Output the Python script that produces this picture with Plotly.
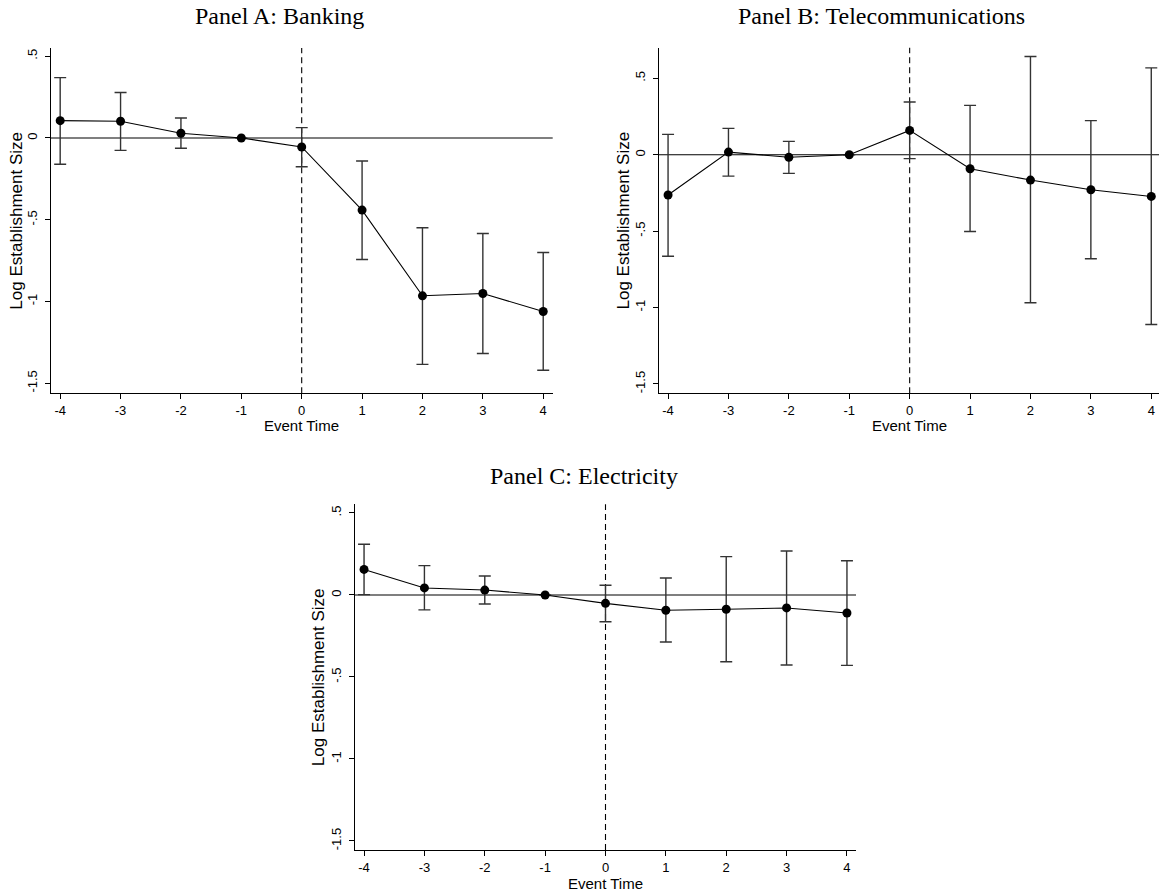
import plotly.graph_objects as go

event_time = [-4, -3, -2, -1, 0, 1, 2, 3, 4]

# Panel A: Banking
bank_est = [0.106, 0.102, 0.029, 0.0, -0.055, -0.441, -0.965, -0.951, -1.061]
bank_hi = [0.369, 0.278, 0.122, 0.0, 0.063, -0.141, -0.549, -0.584, -0.700]
bank_lo = [-0.161, -0.076, -0.063, 0.0, -0.176, -0.743, -1.384, -1.318, -1.420]

# Panel B: Telecommunications
tele_est = [-0.264, 0.017, -0.017, 0.0, 0.159, -0.092, -0.166, -0.229, -0.273]
tele_hi = [0.133, 0.172, 0.087, 0.0, 0.345, 0.323, 0.642, 0.223, 0.568]
tele_lo = [-0.664, -0.140, -0.122, 0.0, -0.026, -0.502, -0.969, -0.681, -1.111]

# Panel C: Electricity
elec_est = [0.156, 0.043, 0.030, 0.0, -0.051, -0.093, -0.087, -0.079, -0.110]
elec_hi = [0.309, 0.179, 0.116, 0.0, 0.059, 0.104, 0.234, 0.268, 0.209]
elec_lo = [0.002, -0.091, -0.055, 0.0, -0.163, -0.287, -0.407, -0.427, -0.429]

titles = ["Panel A: Banking", "Panel B: Telecommunications", "Panel C: Electricity"]
x_title = "Event Time"
y_title = "Log Establishment Size"
y_tickvals = [-1.5, -1, -0.5, 0, 0.5]
y_ticktext = ["-1.5", "-1", "-.5", "0", ".5"]
x_tickvals = event_time
x_ticktext = [str(v) for v in event_time]

W, H = 1159, 892

def fx(px):
    return px / W

def fy(py):
    return 1 - py / H

panels = [
    dict(est=bank_est, hi=bank_hi, lo=bank_lo, xd=[fx(50.7), fx(552.7)], yd=[fy(393.3), fy(48)],
         xr=[-4.157, 4.157], yr=[-1.561, 0.550], title_x=279, title_y=31, ytl_x=17, xt_y=426),
    dict(est=tele_est, hi=tele_hi, lo=tele_lo, xd=[fx(659), 1.0], yd=[fy(393.3), fy(47.7)],
         xr=[-4.15, 4.128], yr=[-1.561, 0.700], title_x=882, title_y=31, ytl_x=623, xt_y=426),
    dict(est=elec_est, hi=elec_hi, lo=elec_lo, xd=[fx(355), fx(856)], yd=[fy(850), fy(504.3)],
         xr=[-4.15, 4.15], yr=[-1.555, 0.553], title_x=584, title_y=491, ytl_x=318, xt_y=883),
]

fig = go.Figure()
annotations = []
shapes = []
layout = {}

for i, p in enumerate(panels):
    n = "" if i == 0 else str(i + 1)
    xa, ya = "x" + n, "y" + n
    plus = [h - e for h, e in zip(p["hi"], p["est"])]
    minus = [e - l for e, l in zip(p["est"], p["lo"])]
    fig.add_trace(go.Scatter(
        x=event_time, y=p["est"], xaxis=xa, yaxis=ya, mode="lines+markers",
        line=dict(color="black", width=1.1),
        marker=dict(color="black", size=9),
        error_y=dict(type="data", array=plus, arrayminus=minus, symmetric=False,
                     color="#333333", thickness=1.4, width=6),
        showlegend=False, cliponaxis=False,
    ))
    layout["xaxis" + n] = dict(
        domain=p["xd"], range=p["xr"], anchor=ya, tickvals=x_tickvals, ticktext=x_ticktext,
        showgrid=False, zeroline=False, showline=True, linecolor="black", linewidth=1,
        ticks="outside", ticklen=5, tickcolor="black", tickwidth=1,
        tickfont=dict(family="Liberation Sans, Arial", size=13, color="black"),
    )
    layout["yaxis" + n] = dict(
        domain=p["yd"], range=p["yr"], anchor=xa, tickvals=y_tickvals, ticktext=y_ticktext,
        showgrid=False, zeroline=False, showline=True, linecolor="black", linewidth=1,
        ticks="outside", ticklen=5, tickcolor="black", tickwidth=1, tickangle=-90,
        ticklabelstandoff=3,
        tickfont=dict(family="Liberation Sans, Arial", size=13, color="black"),
    )
    shapes.append(dict(type="line", xref=xa + " domain", yref=ya, x0=0, x1=1, y0=0, y1=0,
                       line=dict(color="black", width=1.1), layer="below"))
    shapes.append(dict(type="line", xref=xa, yref=ya + " domain", x0=0, x1=0, y0=0, y1=1,
                       line=dict(color="black", width=1.1, dash="6px,4px"), layer="below"))
    annotations.append(dict(text=titles[i], x=fx(p["title_x"]), y=fy(p["title_y"]), xref="paper", yref="paper",
                            xanchor="center", yanchor="bottom", showarrow=False,
                            font=dict(family="Liberation Serif, Times New Roman", size=24, color="black")))
    annotations.append(dict(text=y_title, x=fx(p["ytl_x"]), y=(p["yd"][0] + p["yd"][1]) / 2,
                            xref="paper", yref="paper", xanchor="center", yanchor="middle",
                            textangle=-90, showarrow=False,
                            font=dict(family="Liberation Sans, Arial", size=17, color="black")))
    xc = (p["xd"][0] + p["xd"][1]) / 2 if i != 1 else fx(909.7)
    annotations.append(dict(text=x_title, x=xc, y=fy(p["xt_y"]), xref="paper", yref="paper",
                            xanchor="center", yanchor="middle", showarrow=False,
                            font=dict(family="Liberation Sans, Arial", size=15, color="black")))

fig.update_layout(
    width=W, height=H, margin=dict(l=0, r=0, t=0, b=0),
    paper_bgcolor="white", plot_bgcolor="white",
    annotations=annotations, shapes=shapes, **layout,
)

fig.write_html("out.html", config={"displayModeBar": False},
               post_script="document.body.style.margin='0';document.body.style.overflow='hidden';")
